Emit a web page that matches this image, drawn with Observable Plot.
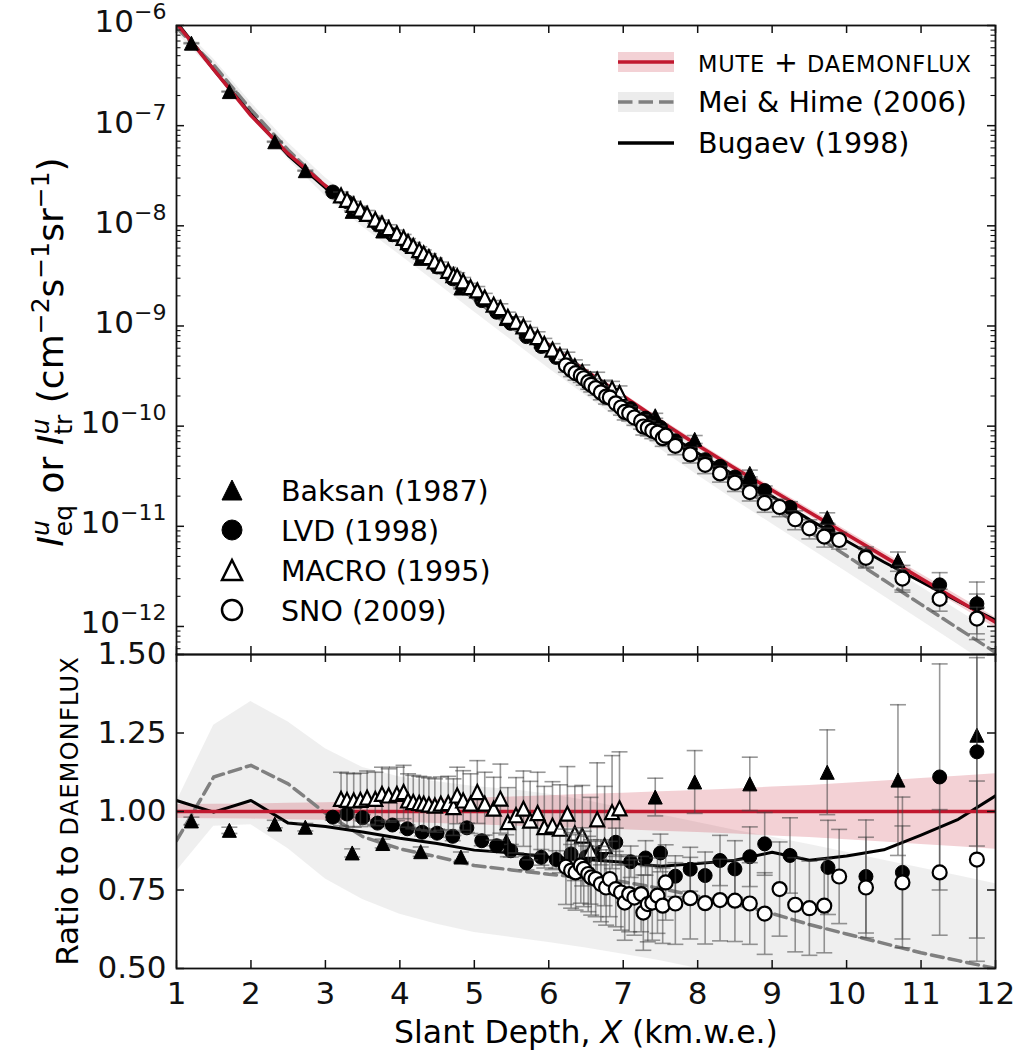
<!DOCTYPE html>
<html><head><meta charset="utf-8">
<script src="https://cdn.jsdelivr.net/npm/d3@7"></script>
<script src="https://cdn.jsdelivr.net/npm/@observablehq/plot@0.6"></script>
<style>
body{margin:0;background:#fff;}
#fig{position:relative;width:1022px;height:1051px;font-family:"DejaVu Sans",sans-serif;}
#fig svg{position:absolute;left:0;overflow:visible;}
</style></head><body><div id="fig"></div>
<script>
// ---------- model curves (depth grid, km.w.e.) ----------
const depthGrid = [1,1.5,2,2.5,3,3.5,4,4.5,5,5.5,6,6.5,7,7.5,8,8.5,9,9.5,10,10.5,11,11.5,12];
const muteFlux = [1.05e-6,3.63e-7,1.26e-7,5.25e-8,2.51e-8,1.35e-8,7.59e-9,4.17e-9,2.24e-9,1.20e-9,6.46e-10,3.55e-10,2.00e-10,1.12e-10,6.46e-11,3.80e-11,2.29e-11,1.38e-11,8.32e-12,5.01e-12,3.02e-12,1.82e-12,1.10e-12];
const muteRatioLo = [0.978,0.977,0.976,0.974,0.972,0.969,0.966,0.962,0.958,0.954,0.950,0.945,0.942,0.937,0.933,0.928,0.922,0.917,0.910,0.903,0.895,0.888,0.880];
const muteRatioHi = [1.022,1.023,1.024,1.026,1.028,1.031,1.034,1.038,1.042,1.046,1.050,1.055,1.058,1.063,1.067,1.072,1.078,1.083,1.090,1.097,1.105,1.112,1.120];
const meiRatio   = [0.907,1.110,1.147,1.088,0.995,0.920,0.881,0.856,0.828,0.814,0.800,0.790,0.776,0.755,0.730,0.705,0.675,0.640,0.610,0.580,0.550,0.525,0.500];
const meiRatioLo = [0.810,0.953,0.958,0.881,0.785,0.720,0.673,0.641,0.615,0.599,0.583,0.565,0.545,0.525,0.500,0.480,0.460,0.440,0.420,0.400,0.380,0.360,0.340];
const meiRatioHi = [1.030,1.275,1.350,1.285,1.200,1.140,1.110,1.095,1.080,1.070,1.055,1.035,1.010,0.990,0.965,0.940,0.918,0.895,0.870,0.845,0.820,0.795,0.770];
const bugaevRatio = [1.035,0.998,1.035,0.963,0.952,0.935,0.915,0.898,0.877,0.868,0.855,0.847,0.838,0.826,0.834,0.845,0.870,0.845,0.858,0.878,0.925,0.975,1.050];

// ---------- measurements: depth, ratio to DAEMONFLUX, error ----------
const baksanDepth = [1.20,1.71,2.32,2.73,3.36,3.77,4.28,4.82,5.43,7.43,7.96,8.70,9.74,10.69,11.75];
const baksanRatio = [0.970,0.940,0.960,0.950,0.868,0.898,0.872,0.855,0.906,1.046,1.094,1.088,1.125,1.100,1.243];
const baksanErr   = [0.012,0.010,0.012,0.012,0.013,0.014,0.015,0.016,0.020,0.060,0.100,0.085,0.135,0.240,0.720];

const lvdDepth = [3.10,3.29,3.50,3.70,3.90,4.10,4.30,4.50,4.71,4.90,5.10,5.30,5.49,5.70,5.90,6.10,6.30,6.50,6.70,6.90,7.10,7.30,7.50,7.70,7.90,8.10,8.30,8.50,8.70,8.90,9.24,9.75,10.26,10.75,11.25,11.75];
const lvdRatio = [0.982,0.992,0.980,0.963,0.957,0.945,0.934,0.931,0.921,0.948,0.907,0.891,0.875,0.836,0.854,0.847,0.865,0.855,0.870,0.902,0.840,0.852,0.868,0.794,0.816,0.796,0.844,0.817,0.856,0.897,0.860,0.822,0.793,0.806,1.110,1.190];
const lvdErr   = [0.010,0.010,0.010,0.011,0.011,0.012,0.012,0.013,0.014,0.015,0.016,0.018,0.020,0.022,0.025,0.028,0.030,0.035,0.040,0.045,0.050,0.055,0.060,0.065,0.070,0.075,0.080,0.090,0.095,0.100,0.120,0.150,0.180,0.240,0.360,0.300];

const macroDepth = [3.21,3.29,3.38,3.47,3.56,3.67,3.76,3.85,3.96,4.05,4.11,4.18,4.26,4.32,4.39,4.47,4.55,4.65,4.72,4.77,4.85,4.95,5.04,5.14,5.26,5.35,5.45,5.56,5.66,5.75,5.85,5.94,6.05,6.15,6.25,6.35,6.45,6.56,6.65,6.75,6.85,6.95];
const macroRatio = [1.040,1.037,1.035,1.037,1.044,1.040,1.056,1.051,1.056,1.062,1.035,1.030,1.027,1.025,1.022,1.019,1.025,1.027,1.014,1.051,1.035,1.025,1.062,1.025,1.009,1.041,0.966,0.988,1.009,0.971,0.995,0.950,0.955,0.945,0.993,0.930,0.923,0.875,0.975,0.890,0.998,1.010];
const macroErr   = [0.085,0.085,0.085,0.085,0.085,0.085,0.085,0.085,0.085,0.085,0.085,0.085,0.085,0.085,0.085,0.085,0.085,0.085,0.090,0.090,0.095,0.095,0.100,0.100,0.100,0.110,0.110,0.120,0.120,0.125,0.130,0.130,0.140,0.140,0.150,0.150,0.160,0.170,0.180,0.190,0.180,0.180];

const snoDepth = [6.23,6.30,6.36,6.43,6.47,6.53,6.57,6.63,6.70,6.77,6.82,6.90,6.97,7.02,7.08,7.15,7.24,7.27,7.33,7.39,7.46,7.53,7.57,7.70,7.90,8.10,8.30,8.50,8.70,8.90,9.10,9.31,9.50,9.70,9.90,10.26,10.75,11.25,11.75];
const snoRatio = [0.824,0.812,0.806,0.828,0.817,0.801,0.790,0.785,0.769,0.758,0.785,0.753,0.742,0.710,0.737,0.726,0.737,0.678,0.705,0.710,0.732,0.700,0.774,0.707,0.724,0.708,0.718,0.716,0.707,0.675,0.753,0.703,0.692,0.700,0.793,0.758,0.774,0.806,0.847];
const snoErr   = [0.120,0.120,0.120,0.120,0.120,0.120,0.120,0.120,0.120,0.120,0.120,0.120,0.120,0.120,0.120,0.120,0.120,0.120,0.120,0.120,0.120,0.120,0.120,0.130,0.130,0.130,0.130,0.130,0.130,0.130,0.150,0.150,0.150,0.150,0.150,0.160,0.180,0.200,0.250];

// ---------- axis ticks ----------
const xTicks = [1,2,3,4,5,6,7,8,9,10,11,12];
const yTopMajor = [1e-6,1e-7,1e-8,1e-9,1e-10,1e-11,1e-12];
const yTopDomain = [5.25e-13, 1e-6];
const yBotTicks = [0.5,0.75,1.0,1.25,1.5];

// ---------- derived tables ----------
function muteAt(x) {
  let i = 0;
  while (i < depthGrid.length - 2 && x > depthGrid[i + 1]) i++;
  const t = (x - depthGrid[i]) / (depthGrid[i + 1] - depthGrid[i]);
  return Math.pow(10, Math.log10(muteFlux[i]) * (1 - t) + Math.log10(muteFlux[i + 1]) * t);
}
const curve = depthGrid.map((x, i) => ({x, mute: muteFlux[i], lo: muteRatioLo[i], hi: muteRatioHi[i],
  mei: meiRatio[i], meiLo: meiRatioLo[i], meiHi: meiRatioHi[i], bug: bugaevRatio[i]}));
function makeSet(xs, rs, es) {
  return xs.map((x, i) => {
    const m = muteAt(x);
    return {x, r: rs[i], rLo: rs[i] - es[i], rHi: rs[i] + es[i], f: rs[i] * m, fLo: (rs[i] - es[i]) * m, fHi: (rs[i] + es[i]) * m};
  });
}
const baksan = makeSet(baksanDepth, baksanRatio, baksanErr);
const lvd = makeSet(lvdDepth, lvdRatio, lvdErr);
const macro = makeSet(macroDepth, macroRatio, macroErr);
const sno = makeSet(snoDepth, snoRatio, snoErr);

const yTopMinor = [];
for (let k = -13; k <= -7; k++) for (let m = 2; m <= 9; m++) {
  const v = m * Math.pow(10, k);
  if (v > yTopDomain[0] && v < yTopDomain[1]) yTopMinor.push(v);
}

// ---------- styling ----------
const red = "#c1182f", ink = "#111", barCol = "#444", grayBand = "#808080";
const W = 1022, ML = 176, MR = 27, PW = W - ML - MR;
const TOP_H = 656, TOP_MT = 25, TOP_MB = 2, TPH = TOP_H - TOP_MT - TOP_MB;
const BOT_H = 399, BOT_MT = 2, BOT_MB = 83, BPH = BOT_H - BOT_MT - BOT_MB;
const triUp = {draw(c, s) { const r = Math.sqrt(s / Math.PI); c.moveTo(0, -r); c.lineTo(r, r); c.lineTo(-r, r); c.closePath(); }};
const capSym = {draw(c, s) { const r = Math.sqrt(s / Math.PI); c.moveTo(-r, 0); c.lineTo(r, 0); }};
const svgStyle = {fontFamily: "DejaVu Sans", fontSize: "31px", background: "transparent", overflow: "visible", color: ink};

function dataMarks(set, y, lo, hi, symbol, fill, sw) {
  const bar = {stroke: barCol, strokeOpacity: 0.55, strokeWidth: 1.6, clip: true};
  return [
    Plot.ruleX(set, {x: "x", y1: lo, y2: hi, ...bar}),
    Plot.dot(set, {x: "x", y: lo, symbol: capSym, r: 8, fill: "none", ...bar}),
    Plot.dot(set, {x: "x", y: hi, symbol: capSym, r: 8, fill: "none", ...bar}),
    Plot.dot(set, {x: "x", y, symbol, r: 7, fill, stroke: "#000", strokeWidth: sw, clip: true})
  ];
}
function allData(y, lo, hi) {
  return [
    ...dataMarks(baksan, y, lo, hi, triUp, "#000", 1),
    ...dataMarks(lvd, y, lo, hi, "circle", "#000", 1),
    ...dataMarks(macro, y, lo, hi, triUp, "#fff", 2.2),
    ...dataMarks(sno, y, lo, hi, "circle", "#fff", 2.2)
  ];
}
const tk = {stroke: ink, strokeWidth: 1.5};
function xTickMarks(ph) {
  return [
    Plot.tickX(xTicks, {x: d => d, insetTop: ph - 8, ...tk}),
    Plot.tickX(xTicks, {x: d => d, insetBottom: ph - 8, ...tk})
  ];
}

// ---------- top panel ----------
const topPlot = Plot.plot({
  width: W, height: TOP_H, marginLeft: ML, marginRight: MR, marginTop: TOP_MT, marginBottom: TOP_MB,
  style: svgStyle,
  x: {domain: [1, 12], axis: null, label: null},
  y: {type: "log", domain: yTopDomain, label: null},
  marks: [
    Plot.areaY(curve, {x: "x", y1: d => d.meiLo * d.mute, y2: d => d.meiHi * d.mute, fill: grayBand, fillOpacity: 0.13, clip: true}),
    Plot.areaY(curve, {x: "x", y1: d => d.lo * d.mute, y2: d => d.hi * d.mute, fill: red, fillOpacity: 0.2, clip: true}),
    Plot.lineY(curve, {x: "x", y: d => d.mei * d.mute, stroke: grayBand, strokeWidth: 3.5, strokeDasharray: "12,6", clip: true}),
    Plot.lineY(curve, {x: "x", y: d => d.bug * d.mute, stroke: "#000", strokeWidth: 3, clip: true}),
    Plot.lineY(curve, {x: "x", y: "mute", stroke: red, strokeWidth: 3.5, clip: true}),
    ...allData("f", "fLo", "fHi"),
    ...xTickMarks(TPH),
    Plot.tickY(yTopMajor, {y: d => d, insetRight: PW - 8, ...tk}),
    Plot.tickY(yTopMajor, {y: d => d, insetLeft: PW - 8, ...tk}),
    Plot.tickY(yTopMinor, {y: d => d, insetRight: PW - 4.5, stroke: ink, strokeWidth: 1.1}),
    Plot.tickY(yTopMinor, {y: d => d, insetLeft: PW - 4.5, stroke: ink, strokeWidth: 1.1}),
    Plot.axisY({ticks: yTopMajor, tickSize: 0, tickPadding: 10, label: null, tickFormat: d => String(Math.round(Math.log10(d)))}),
    Plot.frame({stroke: ink, strokeWidth: 1.8})
  ]
});
topPlot.style.top = "0px";

// ---------- bottom panel ----------
const botPlot = Plot.plot({
  width: W, height: BOT_H, marginLeft: ML, marginRight: MR, marginTop: BOT_MT, marginBottom: BOT_MB,
  style: svgStyle,
  x: {domain: [1, 12], label: null},
  y: {domain: [0.5, 1.5], label: null},
  marks: [
    Plot.areaY(curve, {x: "x", y1: "meiLo", y2: "meiHi", fill: grayBand, fillOpacity: 0.13, clip: true}),
    Plot.areaY(curve, {x: "x", y1: "lo", y2: "hi", fill: red, fillOpacity: 0.2, clip: true}),
    Plot.lineY(curve, {x: "x", y: "mei", stroke: grayBand, strokeWidth: 3.5, strokeDasharray: "12,6", clip: true}),
    Plot.lineY(curve, {x: "x", y: "bug", stroke: "#000", strokeWidth: 3, clip: true}),
    Plot.lineY(curve, {x: "x", y: d => d.mute / d.mute, stroke: red, strokeWidth: 3.5, clip: true}),
    ...allData("r", "rLo", "rHi"),
    ...xTickMarks(BPH),
    Plot.tickY(yBotTicks, {y: d => d, insetRight: PW - 8, ...tk}),
    Plot.tickY(yBotTicks, {y: d => d, insetLeft: PW - 8, ...tk}),
    Plot.axisY({ticks: yBotTicks, tickSize: 0, tickPadding: 10, label: null, tickFormat: d3.format(".2f")}),
    Plot.axisX({ticks: xTicks, tickSize: 0, tickPadding: 13, label: null, tickFormat: d => String(d)}),
    Plot.frame({stroke: ink, strokeWidth: 1.8})
  ]
});
botPlot.style.top = (TOP_H - TOP_MB - BOT_MT) + "px";

const fig = document.getElementById("fig");
fig.appendChild(topPlot);
fig.appendChild(botPlot);

// superscript exponents on the log-axis tick labels
const NS = "http://www.w3.org/2000/svg";
topPlot.querySelectorAll('g[aria-label="y-axis tick label"] text').forEach(t => {
  const e = t.textContent.trim();
  t.textContent = "";
  t.setAttribute("transform", (t.getAttribute("transform") || "") + " translate(0,-3)");
  const a = document.createElementNS(NS, "tspan"); a.textContent = "10"; t.appendChild(a);
  const b = document.createElementNS(NS, "tspan"); b.textContent = e.replace("-", "\u2212");
  b.setAttribute("font-size", "22px"); b.setAttribute("dy", "-13"); t.appendChild(b);
});

// ---------- overlay: axis titles and legends ----------
const ov = d3.select(fig).append("svg").attr("width", W).attr("height", 1051)
  .style("top", "0px").style("pointer-events", "none").attr("font-family", "DejaVu Sans").attr("fill", "#000");

function richText(sel, parts) {
  let cur = 0;
  parts.forEach(p => {
    const ts = sel.append("tspan").text(p.t);
    if (p.size) ts.attr("font-size", p.size);
    if (p.italic) ts.attr("font-style", "italic");
    if (p.ls) ts.attr("letter-spacing", p.ls);
    if (p.dx) ts.attr("dx", p.dx);
    const s = p.shift || 0;
    if (s !== cur) { ts.attr("dy", s - cur); cur = s; }
  });
}
const yl = ov.append("text").attr("transform", "translate(63,352) rotate(-90)").attr("text-anchor", "middle").attr("font-size", 36);
richText(yl, [
  {t: "I", italic: true}, {t: "u", italic: true, size: 25, shift: -14}, {t: "eq", size: 25, shift: 9, dx: -16},
  {t: " or "}, {t: "I", italic: true}, {t: "u", italic: true, size: 25, shift: -14}, {t: "tr", size: 25, shift: 9, dx: -16},
  {t: " (cm"}, {t: "\u22122", size: 25, shift: -14}, {t: "s"}, {t: "\u22121", size: 25, shift: -14},
  {t: "sr"}, {t: "\u22121", size: 25, shift: -14}, {t: ")"}
]);
const yl2 = ov.append("text").attr("transform", "translate(78,811) rotate(-90)").attr("text-anchor", "middle").attr("font-size", 31);
richText(yl2, [{t: "Ratio to "}, {t: "DAEMONFLUX", size: 24, ls: 1.2}]);
const xl = ov.append("text").attr("x", 586).attr("y", 1043).attr("text-anchor", "middle").attr("font-size", 31.5);
richText(xl, [{t: "Slant Depth, "}, {t: "X", italic: true}, {t: " (km.w.e.)"}]);

// legend: models (top right)
const lgM = ov.append("g");
const rowsM = [{y: 62, band: red, bandOp: 0.2, line: red, dash: null, lw: 3.5},
               {y: 102, band: grayBand, bandOp: 0.15, line: grayBand, dash: "14.5,6", lw: 3.5},
               {y: 143, band: null, line: "#000", dash: null, lw: 3.5}];
rowsM.forEach(r => {
  if (r.band) lgM.append("rect").attr("x", 618).attr("y", r.y - 10).attr("width", 56).attr("height", 20).attr("fill", r.band).attr("fill-opacity", r.bandOp);
  const l = lgM.append("line").attr("x1", 618).attr("x2", 674).attr("y1", r.y).attr("y2", r.y).attr("stroke", r.line).attr("stroke-width", r.lw);
  if (r.dash) l.attr("stroke-dasharray", r.dash);
});
const t1 = lgM.append("text").attr("x", 698).attr("y", 62).attr("dy", "0.36em").attr("font-size", 28.5);
richText(t1, [{t: "MUTE", size: 22.5, ls: 0.8}, {t: " + ", size: 28.5}, {t: "DAEMONFLUX", size: 22.5, ls: 0.8}]);
lgM.append("text").attr("x", 698).attr("y", 102).attr("dy", "0.36em").attr("font-size", 28.5).text("Mei & Hime (2006)");
lgM.append("text").attr("x", 698).attr("y", 143).attr("dy", "0.36em").attr("font-size", 28.5).text("Bugaev (1998)");

// legend: experiments (bottom left)
const lgD = ov.append("g");
const rowsD = [{y: 490, label: "Baksan (1987)", sym: triUp, fill: "#000"},
               {y: 530, label: "LVD (1998)", sym: d3.symbolCircle, fill: "#000"},
               {y: 570, label: "MACRO (1995)", sym: triUp, fill: "#fff"},
               {y: 610, label: "SNO (2009)", sym: d3.symbolCircle, fill: "#fff"}];
rowsD.forEach(r => {
  lgD.append("path").attr("transform", `translate(232,${r.y})`).attr("d", d3.symbol(r.sym, Math.PI * 100)())
    .attr("fill", r.fill).attr("stroke", "#000").attr("stroke-width", r.fill === "#fff" ? 2.5 : 1);
  lgD.append("text").attr("x", 281).attr("y", r.y + 1).attr("dy", "0.36em").attr("font-size", 28.5).text(r.label);
});
</script></body></html>
